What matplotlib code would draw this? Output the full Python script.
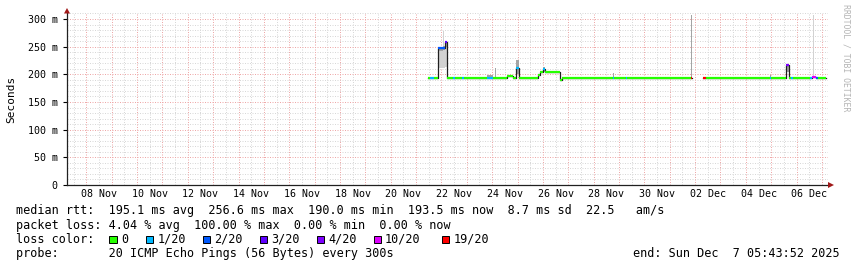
import numpy as np
import pandas as pd
import matplotlib
matplotlib.use("Agg")
import matplotlib.pyplot as plt
import matplotlib.dates as mdates
from matplotlib.ticker import FuncFormatter, FixedLocator
from matplotlib.patches import Rectangle, Polygon

nan = np.nan

# ---------------- data ----------------
graph_start = "2025-11-07 05:43:52"
graph_end = "2025-12-07 05:43:52"

# step data: each value holds until the next time stamp
times = [
    "2025-11-21 11:15", "2025-11-21 13:05", "2025-11-21 16:55", "2025-11-21 20:45",
    "2025-11-22 01:25", "2025-11-22 02:25", "2025-11-22 03:20", "2025-11-22 05:15",
    "2025-11-22 10:55", "2025-11-22 12:50", "2025-11-22 19:25", "2025-11-22 21:20",
    "2025-11-23 19:05", "2025-11-24 00:45", "2025-11-24 02:35", "2025-11-24 03:35",
    "2025-11-24 14:00", "2025-11-24 19:40", "2025-11-24 22:30", "2025-11-25 01:20",
    "2025-11-25 19:20", "2025-11-25 21:10", "2025-11-26 00:00", "2025-11-26 01:55",
    "2025-11-26 16:05", "2025-11-26 18:00", "2025-11-28 18:20", "2025-11-28 19:15",
    "2025-11-29 06:35", "2025-11-29 07:30", "2025-12-01 20:00", "2025-12-01 20:55",
    "2025-12-02 07:25", "2025-12-02 10:10", "2025-12-04 22:50", "2025-12-04 23:40",
    "2025-12-05 13:55", "2025-12-05 16:40", "2025-12-05 18:35", "2025-12-05 20:30",
    "2025-12-06 12:35", "2025-12-06 15:00", "2025-12-06 15:55", "2025-12-06 16:55",
    "2025-12-06 18:15", "2025-12-06 20:10", "2025-12-07 03:45",
]
median_ms = [
    194.0, 194.0, 194.0, 247.0,
    248.0, 248.0, 258.0, 194.0,
    194.0, 194.0, 194.0, 194.0,
    194.0, 194.0, 194.0, 194.0,
    196.5, 194.0, 212.0, 194.0,
    199.0, 204.0, 209.0, 204.0,
    190.5, 193.5, 193.5, 193.5,
    193.5, 193.5, 193.5, nan,
    193.5, 193.5, 193.5, 193.5,
    216.0, 193.5, 193.5, 193.5,
    194.0, 195.5, 195.5, 195.5,
    194.0, 194.0, nan,
]
lost_pings = [
    0, 1, 0, 2,
    2, 2, 3, 0,
    1, 0, 1, 0,
    1, 0, 0, 0,
    0, 0, 1, 0,
    0, 0, 1, 0,
    0, 0, 1, 0,
    1, 0, 19, nan,
    19, 0, 1, 0,
    4, 0, 1, 0,
    1, 10, 10, 10,
    2, 0, nan,
]
smoke_lo = [
    192.5, 192.5, 192.5, 243.0,
    244.0, 244.0, 250.0, 192.5,
    192.5, 192.5, 192.5, 192.5,
    192.0, 192.5, 192.5, 192.5,
    195.0, 192.5, 200.0, 192.5,
    197.0, 202.5, 204.0, 202.5,
    189.0, 192.0, 192.0, 192.0,
    192.0, 192.0, 192.0, nan,
    192.0, 192.0, 192.0, 192.0,
    205.0, 192.0, 192.0, 192.0,
    192.5, 194.0, 194.0, 194.0,
    192.5, 192.5, nan,
]
smoke_hi = [
    195.5, 196.0, 195.5, 249.5,
    250.5, 250.5, 260.0, 195.5,
    196.0, 195.5, 196.0, 195.5,
    199.0, 195.5, 211.0, 195.5,
    198.0, 195.5, 226.0, 195.5,
    201.0, 206.0, 213.0, 206.0,
    192.0, 195.0, 202.0, 195.0,
    196.0, 195.0, 307.0, nan,
    195.0, 195.0, 198.0, 195.0,
    218.0, 195.0, 195.5, 195.0,
    196.0, 197.0, 197.0, 197.0,
    196.0, 195.5, nan,
]
outlier_lo = [
    nan, nan, nan, 212.0,
    212.0, 212.0, 214.0, nan,
    nan, nan, nan, nan,
    nan, nan, nan, nan,
    nan, nan, nan, nan,
    nan, nan, nan, nan,
    nan, nan, nan, nan,
    nan, nan, nan, nan,
    nan, nan, nan, nan,
    nan, nan, nan, nan,
    nan, nan, 194.0, nan,
    nan, nan, nan,
]
outlier_hi = [
    nan, nan, nan, 250.0,
    278.0, 252.0, 260.0, nan,
    nan, nan, nan, nan,
    nan, nan, nan, nan,
    nan, nan, nan, nan,
    nan, nan, nan, nan,
    nan, nan, nan, nan,
    nan, nan, nan, nan,
    nan, nan, nan, nan,
    nan, nan, nan, nan,
    nan, nan, 307.0, nan,
    nan, nan, nan,
]

loss_levels = [0, 1, 2, 3, 4, 10, 19]
loss_labels = ["0", "1/20", "2/20", "3/20", "4/20", "10/20", "19/20"]
loss_colors = ["#26ff00", "#00b8ff", "#0059ff", "#5e00ff", "#7e00ff", "#dd00ff", "#ff0000"]

y_tick_values = [0, 50, 100, 150, 200, 250, 300]

stat_lines = [
    "median rtt:  195.1 ms avg  256.6 ms max  190.0 ms min  193.5 ms now  8.7 ms sd  22.5   am/s",
    "packet loss: 4.04 % avg  100.00 % max  0.00 % min  0.00 % now",
]
probe_line = "probe:       20 ICMP Echo Pings (56 Bytes) every 300s"
end_line = "end: Sun Dec  7 05:43:52 2025"

# ---------------- layout ----------------
W, H, DPI = 857, 267, 100
MONO = "DejaVu Sans Mono"
plt.rcParams["font.family"] = [MONO, "DejaVu Sans"]

fig = plt.figure(figsize=(W / DPI, H / DPI), dpi=DPI)
fig.patch.set_facecolor("white")

PL, PR, PT, PB = 67, 828, 13, 185
ax = fig.add_axes([PL / W, 1 - PB / H, (PR - PL) / W, (PB - PT) / H])
ax.set_facecolor("white")

t0 = mdates.date2num(pd.Timestamp(graph_start).to_pydatetime())
t1 = mdates.date2num(pd.Timestamp(graph_end).to_pydatetime())
ax.set_xlim(t0, t1)
ax.set_ylim(0, 310.8)

t = mdates.date2num(pd.to_datetime(times).to_pydatetime())
med = np.array(median_ms, dtype=float)
loss = np.array(lost_pings, dtype=float)
slo = np.array(smoke_lo, dtype=float)
shi = np.array(smoke_hi, dtype=float)
olo = np.array(outlier_lo, dtype=float)
ohi = np.array(outlier_hi, dtype=float)

# grid (dotted)
minor_c = "#d8d8d8"
major_c = "#eea8a8"
dash = (0, (1, 1.5))
gkw = dict(lw=0.72, ls=dash, antialiased=True)
for d in pd.date_range("2025-11-07 12:00", "2025-12-06 12:00", freq="D"):
    ax.axvline(mdates.date2num(d.to_pydatetime()), color=minor_c, zorder=0, **gkw)
for yv in range(10, 311, 10):
    if yv % 50:
        ax.axhline(yv, color=minor_c, zorder=0, **gkw)
for d in pd.date_range("2025-11-08", "2025-12-07", freq="D"):
    ax.axvline(mdates.date2num(d.to_pydatetime()), color=major_c, zorder=0.5, **gkw)
for yv in y_tick_values[1:]:
    ax.axhline(yv, color=major_c, zorder=0.5, **gkw)

# smoke
widths = np.diff(t)
m = np.isfinite(ohi[:-1])
ax.bar(t[:-1][m], (ohi - olo)[:-1][m], width=widths[m], bottom=olo[:-1][m],
       align="edge", color="#d2d2d2", linewidth=0, zorder=1)
m = np.isfinite(shi[:-1])
ax.bar(t[:-1][m], (shi - slo)[:-1][m], width=widths[m], bottom=slo[:-1][m],
       align="edge", color="#a4a4a4", linewidth=0, zorder=2)

# median: dark connecting line + loss-coloured segments
ax.step(t, med, where="post", color="#202020", lw=0.9, zorder=3)
def loss_color(v):
    idx = 0
    for i, lv in enumerate(loss_levels):
        if v >= lv:
            idx = i
    return loss_colors[idx]
m = np.isfinite(med[:-1])
seg_colors = [loss_color(v) for v in loss[:-1][m]]
ax.hlines(med[:-1][m], t[:-1][m], t[1:][m], colors=seg_colors, lw=1.6, zorder=4)

# axes styling
for s in ["top", "right"]:
    ax.spines[s].set_visible(False)
for s in ["left", "bottom"]:
    ax.spines[s].set_color("#202020")
    ax.spines[s].set_linewidth(0.9)
    ax.spines[s].set_zorder(5)

ax.yaxis.set_major_locator(FixedLocator(y_tick_values))
ax.yaxis.set_major_formatter(FuncFormatter(lambda v, p: "0" if v == 0 else f"{int(v)} m"))
ax.tick_params(axis="y", which="major", length=3, width=0.8, pad=3.6, labelsize=7.2,
               direction="out", colors="black")
label_days = pd.date_range("2025-11-08 12:00", "2025-12-06 12:00", freq="2D")
ax.xaxis.set_major_locator(FixedLocator(mdates.date2num(label_days.to_pydatetime())))
ax.xaxis.set_major_formatter(mdates.DateFormatter("%d %b"))
ax.tick_params(axis="x", which="major", length=0, pad=3.2, labelsize=7.2, colors="black")
for lab in ax.get_xticklabels() + ax.get_yticklabels():
    lab.set_family(MONO)

ax.set_ylabel("Seconds", family=MONO, fontsize=8)
ax.yaxis.label.set_va("center")
ax.yaxis.set_label_coords(-(PL - 11) / (PR - PL), 0.5)

# axis arrows
arrow_c = "#a01818"
def px(x, y):
    return (x / W, 1 - y / H)
fig.add_artist(Polygon([px(64, 13.5), px(70, 13.5), px(67, 8)], closed=True,
                       transform=fig.transFigure, color=arrow_c, lw=0))
fig.add_artist(Polygon([px(828, 182), px(828, 188), px(834, 185)], closed=True,
                       transform=fig.transFigure, color=arrow_c, lw=0))

# watermark
fig.text(846 / W, 1 - 4 / H, "RRDTOOL / TOBI OETIKER", rotation=270, ha="center", va="top",
         fontsize=5.9, color="#b4b4b4", family=MONO)

# legend / stats text
TX = 16
baselines = [214.3, 228.5, 242.8, 257.0]
FS = 8.5
for line, yb in zip(stat_lines, baselines[:2]):
    fig.text(TX / W, 1 - yb / H, line, ha="left", va="baseline", fontsize=FS, family=MONO)
fig.text(TX / W, 1 - baselines[2] / H, "loss color:", ha="left", va="baseline",
         fontsize=FS, family=MONO)
legend_box_x = [109.5, 146, 203, 260, 317, 373.5, 442]
for bx, lab, col in zip(legend_box_x, loss_labels, loss_colors):
    fig.add_artist(Rectangle(px(bx, 242.5), 7 / W, 7 / H, transform=fig.transFigure,
                             facecolor=col, edgecolor="black", lw=0.7))
    fig.text((bx + 11.5) / W, 1 - baselines[2] / H, lab, ha="left", va="baseline",
             fontsize=FS, family=MONO)
fig.text(TX / W, 1 - baselines[3] / H, probe_line, ha="left", va="baseline",
         fontsize=FS, family=MONO)
fig.text(840 / W, 1 - baselines[3] / H, end_line, ha="right", va="baseline",
         fontsize=FS, family=MONO)

fig.savefig("out.png", dpi=DPI, facecolor="white")
